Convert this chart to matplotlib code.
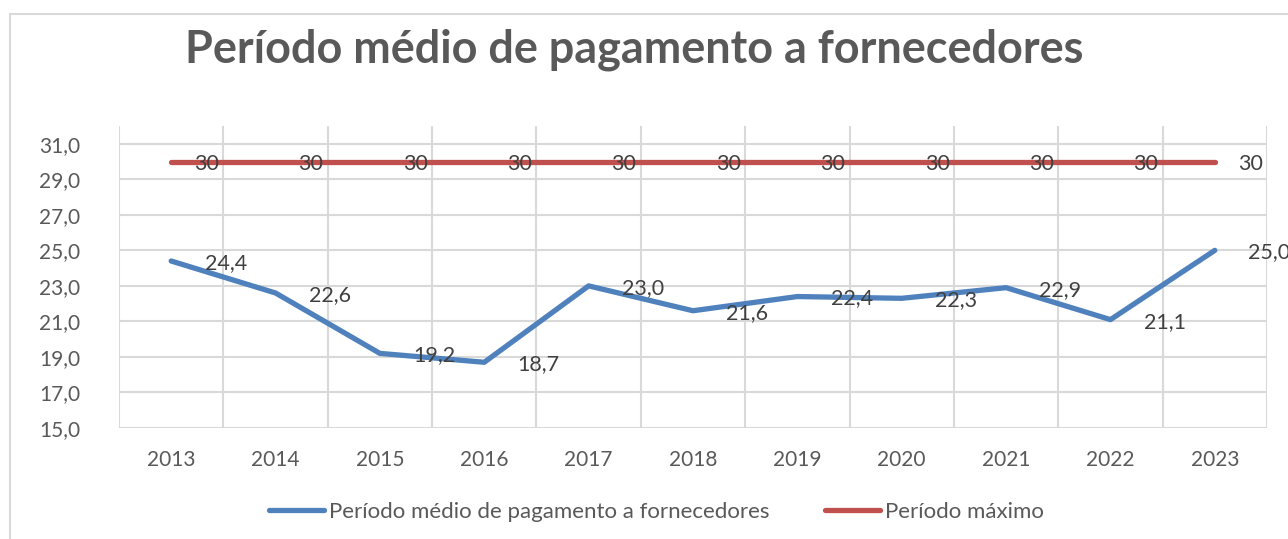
import matplotlib.pyplot as plt
import matplotlib
from matplotlib.patches import Rectangle

matplotlib.rcParams['font.family'] = ['Lato', 'DejaVu Sans']

anos = ['2013', '2014', '2015', '2016', '2017', '2018', '2019', '2020', '2021', '2022', '2023']
pmp = [24.4, 22.6, 19.2, 18.7, 23.0, 21.6, 22.4, 22.3, 22.9, 21.1, 25.0]
maximo = [30] * 11

azul = '#4f81bd'
verm = '#c0504d'
cinza = '#595959'

fig = plt.figure(figsize=(12.88, 5.39), dpi=100)
fig.patches.append(Rectangle((10/1288, -0.1), 1.2, 1 - 14/539 + 0.1, transform=fig.transFigure,
                             fill=False, edgecolor='#d9d9d9', linewidth=1.5))
ax = fig.add_axes([119/1288, 1 - 428/539, (1267-119)/1288, (428-126)/539])

x = list(range(len(anos)))
ax.plot(x, pmp, color=azul, lw=3.8, solid_capstyle='round', solid_joinstyle='round',
        label='Período médio de pagamento a fornecedores', zorder=3)
ax.plot(x, maximo, color=verm, lw=3.8, solid_capstyle='round', label='Período máximo', zorder=3)

for i, v in enumerate(pmp):
    ax.annotate(f'{v:.1f}'.replace('.', ','), (i, v), xytext=(24, 0), textcoords='offset points',
                ha='left', va='center_baseline', fontsize=15.5, color='#404040', zorder=4)
for i, v in enumerate(maximo):
    ax.annotate(f'{v}', (i, v), xytext=(16.5, 0), textcoords='offset points',
                ha='left', va='center_baseline', fontsize=15.5, color='#404040', zorder=4)

ax.set_xlim(-0.5, len(anos) - 0.5)
ax.set_ylim(15, 32)
ax.set_yticks([15, 17, 19, 21, 23, 25, 27, 29, 31])
ax.set_yticklabels([f'{t},0' for t in [15, 17, 19, 21, 23, 25, 27, 29, 31]])
ax.set_xticks(x)
ax.set_xticklabels(anos)
ax.set_xticks([i - 0.5 for i in range(len(anos) + 1)], minor=True)
ax.grid(axis='y', which='major', color='#d9d9d9', lw=1.5)
ax.grid(axis='x', which='minor', color='#d9d9d9', lw=1.5)
ax.set_axisbelow(True)
ax.tick_params(axis='both', which='both', length=0, labelsize=15, labelcolor=cinza)
ax.tick_params(axis='y', pad=28)
ax.tick_params(axis='x', pad=16)
for s in ax.spines.values():
    s.set_visible(False)

fig.text(634/1288, 1 - 50/539, 'Período médio de pagamento a fornecedores', ha='center', va='center',
         fontsize=32.4, fontweight='bold', color=cinza)

fig.legend(loc='center', bbox_to_anchor=(656/1288, 1 - 512/539), ncol=2, frameon=False,
           fontsize=16, labelcolor=cinza, handlelength=2.5, handletextpad=0.2, columnspacing=2.5)

fig.savefig('out.png', dpi=100)
